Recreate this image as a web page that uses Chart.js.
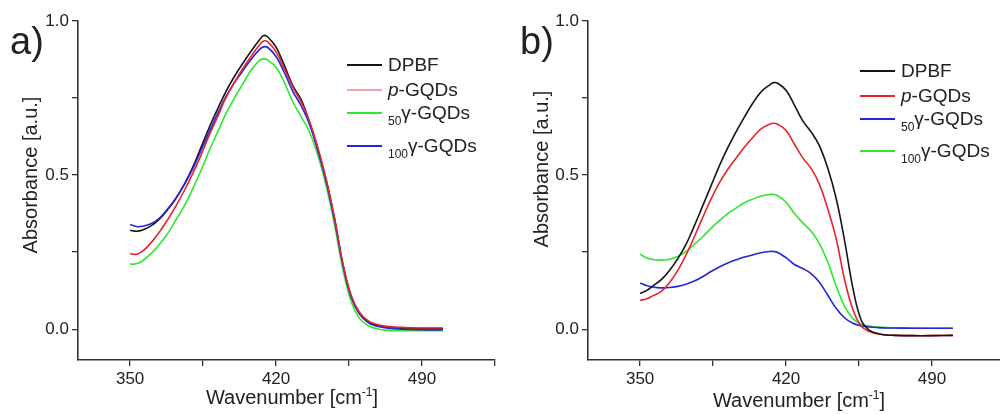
<!DOCTYPE html>
<html>
<head>
<meta charset="utf-8">
<script src="https://cdn.jsdelivr.net/npm/chart.js@4.4.0/dist/chart.umd.min.js"></script>
<style>
  html, body { margin: 0; padding: 0; background: #fff; }
  body { width: 1000px; height: 414px; overflow: hidden; position: relative;
         font-family: "Liberation Sans", Arial, sans-serif; color: #222; }
  canvas { position: absolute; top: 0; }
  .txt { position: absolute; white-space: nowrap; transform: translate(-50%, -50%); }
  .panel { font-size: 38px; }
  .title { font-size: 20px; }
  .rot { transform: translate(-50%, -50%) rotate(-90deg); }
  .title sup { font-size: 12px; vertical-align: 8px; line-height: 0; }
  .leg { position: absolute; height: 20px; white-space: nowrap; font-size: 19px; line-height: 20px; }
  .leg .ln { position: absolute; left: 0; top: 9px; width: 35px; height: 2px; }
  .leg .lt { position: absolute; left: 41px; top: 0; }
  .leg sub { font-size: 12px; vertical-align: -6px; line-height: 0; }
</style>
</head>
<body>
<canvas id="chartA" width="500" height="414" style="left:0"></canvas>
<canvas id="chartB" width="520" height="414" style="left:500px"></canvas>

<div class="txt panel" style="left:27px; top:41px">a)</div>
<div class="txt panel" style="left:537px; top:41px">b)</div>
<div class="txt title rot" style="left:30px; top:175px">Absorbance [a.u.]</div>
<div class="txt title rot" style="left:541px; top:169px">Absorbance [a.u.]</div>
<div class="txt title" style="left:292px; top:397px">Wavenumber [cm<sup>-1</sup>]</div>
<div class="txt title" style="left:799px; top:400px">Wavenumber [cm<sup>-1</sup>]</div>

<script>
'use strict';

// 波数（横軸）
const wavenumbers = [350, 353, 356, 360, 364, 368, 372, 376, 380, 384, 388, 392, 396, 400,
    404, 408, 412, 414, 416, 420, 424, 428, 432, 436, 440, 444, 448, 452, 456, 460, 464,
    468, 472, 480, 490, 500];

// a) パネル
const aDPBF = [0.321, 0.318, 0.322, 0.335, 0.357, 0.388, 0.425, 0.470, 0.525, 0.590, 0.655,
    0.715, 0.772, 0.820, 0.862, 0.902, 0.938, 0.953, 0.948, 0.915, 0.855, 0.790, 0.745, 0.672,
    0.585, 0.484, 0.360, 0.210, 0.105, 0.050, 0.025, 0.013, 0.008, 0.003, 0.002, 0.002];
const aP = [0.245, 0.243, 0.253, 0.280, 0.315, 0.355, 0.400, 0.450, 0.505, 0.565, 0.630,
    0.690, 0.752, 0.800, 0.845, 0.885, 0.922, 0.935, 0.932, 0.900, 0.845, 0.785, 0.738, 0.675,
    0.590, 0.487, 0.362, 0.215, 0.110, 0.055, 0.028, 0.016, 0.010, 0.006, 0.004, 0.004];
const a50 = [0.211, 0.212, 0.222, 0.245, 0.275, 0.310, 0.355, 0.400, 0.455, 0.515, 0.580,
    0.640, 0.700, 0.750, 0.795, 0.840, 0.872, 0.877, 0.873, 0.850, 0.800, 0.738, 0.690, 0.640,
    0.565, 0.465, 0.340, 0.195, 0.090, 0.035, 0.012, 0.002, -0.003, -0.005, -0.005, -0.005];
const a100 = [0.340, 0.333, 0.334, 0.342, 0.360, 0.390, 0.425, 0.470, 0.520, 0.580, 0.640,
    0.700, 0.755, 0.800, 0.838, 0.875, 0.907, 0.916, 0.914, 0.885, 0.832, 0.772, 0.725, 0.665,
    0.580, 0.480, 0.355, 0.210, 0.105, 0.050, 0.022, 0.010, 0.005, 0.000, -0.002, -0.002];

// b) パネル
const bDPBF = [0.116, 0.125, 0.140, 0.160, 0.190, 0.228, 0.275, 0.335, 0.400, 0.465, 0.530,
    0.588, 0.640, 0.688, 0.733, 0.770, 0.792, 0.800, 0.798, 0.775, 0.727, 0.676, 0.640, 0.595,
    0.522, 0.425, 0.290, 0.135, 0.030, -0.004, -0.014, -0.019, -0.020, -0.021, -0.021, -0.020];
const bP = [0.094, 0.098, 0.108, 0.122, 0.150, 0.190, 0.240, 0.300, 0.362, 0.422, 0.475,
    0.518, 0.555, 0.590, 0.622, 0.650, 0.665, 0.668, 0.665, 0.645, 0.600, 0.556, 0.522, 0.470,
    0.390, 0.295, 0.162, 0.065, 0.010, -0.008, -0.015, -0.019, -0.020, -0.021, -0.021, -0.020];
const b50 = [0.150, 0.142, 0.137, 0.134, 0.135, 0.139, 0.146, 0.156, 0.170, 0.187, 0.202,
    0.215, 0.225, 0.234, 0.241, 0.248, 0.252, 0.252, 0.249, 0.232, 0.210, 0.197, 0.180, 0.152,
    0.110, 0.068, 0.037, 0.019, 0.011, 0.007, 0.005, 0.004, 0.004, 0.003, 0.003, 0.003];
const b100 = [0.243, 0.232, 0.226, 0.224, 0.227, 0.236, 0.252, 0.275, 0.300, 0.327, 0.352,
    0.375, 0.393, 0.410, 0.422, 0.432, 0.437, 0.437, 0.433, 0.412, 0.375, 0.345, 0.318, 0.278,
    0.218, 0.140, 0.075, 0.035, 0.016, 0.010, 0.007, 0.005, 0.004, 0.004, 0.003, 0.003];

// 軸目盛
const xRange = [325, 525];
const xTicks = [350, 385, 420, 455, 490, 525];
const xLabels = [350, 420, 490];
const yRange = [-0.1, 1.0];
const yTicks = [0, 0.25, 0.5, 0.75, 1.0];
const yLabels = [0, 0.5, 1.0];

// 凡例
const labelsA = ['DPBF', '<i>p</i>-GQDs', '<sub>50</sub>γ-GQDs', '<sub>100</sub>γ-GQDs'];
const labelsB = ['DPBF', ' <i>p</i>-GQDs', '<sub>50</sub>γ-GQDs', '<sub>100</sub>γ-GQDs'];

const BLACK = '#151515', RED = '#e8232b', GREEN = '#2ee82e', BLUE = '#2424e6';

Chart.defaults.font.family = '"Liberation Sans", Arial, sans-serif';
Chart.defaults.color = '#222';

function buildChart(id, series, leftW, rightPad) {
    return new Chart(document.getElementById(id), {
        type: 'line',
        data: {
            datasets: series.map((s) => ({
                label: s.label,
                data: wavenumbers.map((w, i) => ({ x: w, y: s.values[i] })),
                borderColor: s.color,
                borderWidth: 1.6,
                pointRadius: 0,
                fill: false,
                tension: 0.4,
                order: s.order
            }))
        },
        options: {
            responsive: false,
            animation: false,
            devicePixelRatio: 1,
            layout: { padding: { top: 21, right: rightPad, bottom: 0, left: 0 } },
            plugins: { legend: { display: false }, tooltip: { enabled: false } },
            scales: {
                x: {
                    type: 'linear',
                    min: xRange[0],
                    max: xRange[1],
                    afterBuildTicks: (scale) => { scale.ticks = xTicks.map(v => ({ value: v })); },
                    afterFit: (scale) => { scale.height = 54; },
                    ticks: {
                        callback: (v) => xLabels.includes(v) ? String(v) : '',
                        autoSkip: false, maxRotation: 0, padding: 3,
                        color: '#222', font: { size: 17 }
                    },
                    grid: { drawOnChartArea: false, drawTicks: true, tickLength: 6, color: '#333', lineWidth: 1.3 },
                    border: { display: true, color: '#333', width: 1.6 }
                },
                y: {
                    type: 'linear',
                    min: yRange[0],
                    max: yRange[1],
                    afterBuildTicks: (scale) => { scale.ticks = yTicks.map(v => ({ value: v })); },
                    afterFit: (scale) => { scale.width = leftW; },
                    ticks: {
                        callback: (v) => yLabels.includes(v) ? v.toFixed(1) : '',
                        autoSkip: false, padding: 3,
                        color: '#222', font: { size: 17 }
                    },
                    grid: { drawOnChartArea: false, drawTicks: true, tickLength: 6, color: '#333', lineWidth: 1.3 },
                    border: { display: true, color: '#333', width: 1.6 }
                }
            }
        }
    });
}

function buildLegend(series, x, ys) {
    series.forEach((s, i) => {
        const row = document.createElement('div');
        row.className = 'leg';
        row.style.left = x + 'px';
        row.style.top = (ys[i] - 10) + 'px';
        row.innerHTML = '<div class="ln" style="background:' + (s.legendColor || s.color) +
            '"></div><div class="lt">' + s.label + '</div>';
        document.body.appendChild(row);
    });
}

const seriesA = [
    { label: labelsA[0], values: aDPBF, color: BLACK, order: 3 },
    { label: labelsA[1], values: aP, color: RED, legendColor: '#f2a2aa', order: 0 },
    { label: labelsA[2], values: a50, color: GREEN, order: 2 },
    { label: labelsA[3], values: a100, color: BLUE, order: 1 }
];
const seriesB = [
    { label: labelsB[0], values: bDPBF, color: BLACK, order: 0 },
    { label: labelsB[1], values: bP, color: RED, order: 1 },
    { label: labelsB[2], values: b50, color: BLUE, order: 2 },
    { label: labelsB[3], values: b100, color: GREEN, order: 3 }
];

buildChart('chartA', seriesA, 78, 5);
buildChart('chartB', seriesB, 88, 15);
buildLegend(seriesA, 347, [65, 90, 113, 146]);
buildLegend(seriesB, 860, [71, 96, 119, 151]);
</script>
</body>
</html>
